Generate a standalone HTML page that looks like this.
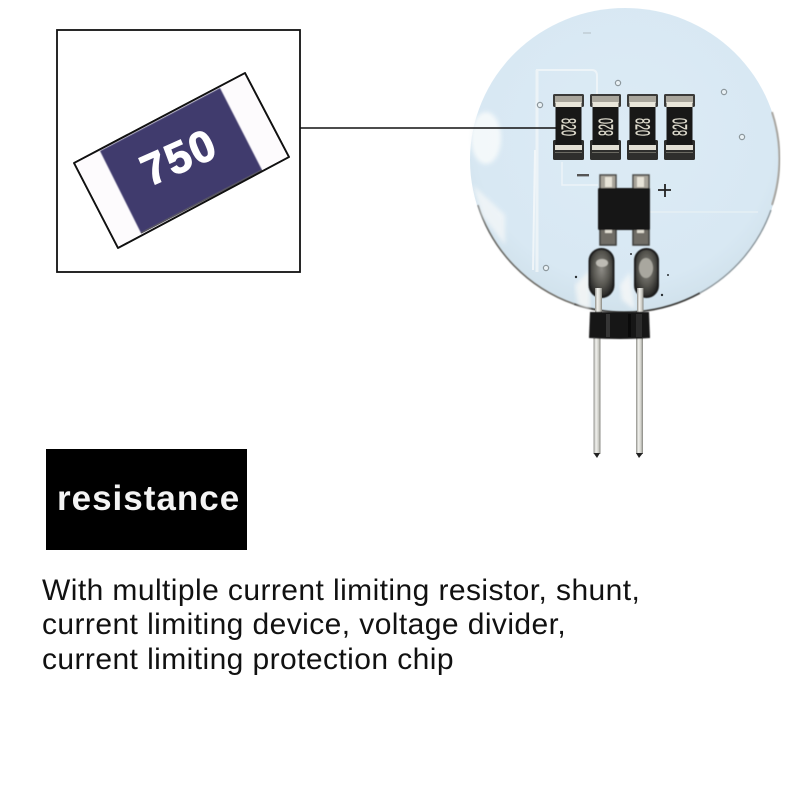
<!DOCTYPE html>
<html><head><meta charset="utf-8">
<style>
html,body{margin:0;padding:0;background:#fff;width:800px;height:800px;overflow:hidden}
svg{display:block}
.t{font-family:"Liberation Sans",sans-serif}
</style></head><body>
<svg width="800" height="800" viewBox="0 0 800 800" xmlns="http://www.w3.org/2000/svg">
<defs>
<radialGradient id="board" cx="50%" cy="42%" r="60%">
<stop offset="0" stop-color="#dcebf5"/><stop offset="0.8" stop-color="#d8e8f3"/><stop offset="1" stop-color="#cfe0ea"/>
</radialGradient>
<linearGradient id="pin" x1="0" x2="1" y1="0" y2="0">
<stop offset="0" stop-color="#8f8f8a"/><stop offset="0.35" stop-color="#f2f2ee"/><stop offset="0.7" stop-color="#d0d0ca"/><stop offset="1" stop-color="#85857f"/>
</linearGradient>
<radialGradient id="pad" cx="50%" cy="42%" r="58%">
<stop offset="0" stop-color="#8e8c86"/><stop offset="0.6" stop-color="#56554f"/><stop offset="1" stop-color="#262625"/>
</radialGradient>
<filter id="s"><feGaussianBlur stdDeviation="0.45"/></filter>
<filter id="s2"><feGaussianBlur stdDeviation="2"/></filter>
<g id="res">
<rect x="0" y="0" width="31" height="13" rx="1.5" fill="#3a3a38"/>
<rect x="2" y="2" width="27" height="7" fill="#a9a69c"/>
<rect x="0" y="46" width="31" height="20" rx="1.500" fill="#2e2e2c"/>
<rect x="2" y="58" width="27" height="1" fill="#6b6a62"/>
<rect x="2.500" y="8" width="26" height="6" fill="#e9e6da"/>
<rect x="2.500" y="13" width="26" height="39" fill="#181817"/>
<rect x="2" y="51" width="27" height="5" fill="#e2dfd4"/>
</g>
</defs>

<!-- inset box -->
<rect x="57" y="30" width="243" height="242" fill="#fff" stroke="#111" stroke-width="1.8"/>
<polygon points="74,163 245,73 289,157 118,248" fill="#fdfbfd" stroke="#111" stroke-width="1.8" stroke-linejoin="round"/>
<polygon points="100,151 220,88 262,170 141,233" fill="#3f3a6d" filter="url(#s)"/>
<line x1="141" y1="233" x2="262" y2="170" stroke="#55535f" stroke-width="1.5"/>
<polygon points="74,163 245,73 289,157 118,248" fill="none" stroke="#111" stroke-width="1.8" stroke-linejoin="round"/>
<text class="t" x="0" y="0" transform="translate(185,171) rotate(-24)" text-anchor="middle" font-size="44" font-weight="700" fill="#fff" stroke="#fff" stroke-width="1.1" letter-spacing="1.5">750</text>

<!-- board -->
<ellipse cx="625" cy="160" rx="155" ry="152" fill="url(#board)"/>
<path d="M772 112 A155 152 0 0 1 772 205" fill="none" stroke="#a9a6a0" stroke-width="2" filter="url(#s)"/>
<path d="M478 205 A155 152 0 0 0 574 304" fill="none" stroke="#6e6d68" stroke-width="1.6" filter="url(#s)"/>
<path d="M574 304 A155 152 0 0 0 700 293" fill="none" stroke="#3a3a38" stroke-width="1.8" filter="url(#s)"/>
<path d="M700 293 A155 152 0 0 0 771 210" fill="none" stroke="#8d979c" stroke-width="1.4" filter="url(#s)"/>
<!-- highlights -->
<ellipse cx="486" cy="138" rx="15" ry="26" fill="#f7fafb" opacity=".9" filter="url(#s2)"/>
<path d="M473 185 L505 215 L505 245 L482 215 Z" fill="#f2f6f8" opacity=".85" filter="url(#s2)"/>
<path d="M575 285 L590 270 L590 310 L578 305 Z" fill="#f3f5f5" opacity=".9" filter="url(#s2)"/>
<path d="M622 300 L620 285 L630 272 L635 310 Z" fill="#f3f6f7" opacity=".9" filter="url(#s2)"/>
<path d="M536 70 H592 Q597 70 597 76 V94" fill="none" stroke="#edf4f8" stroke-width="2"/>
<path d="M537 70 V272" fill="none" stroke="#ecf3f7" stroke-width="3"/>
<path d="M535 150 L533 270" fill="none" stroke="#f6f9fa" stroke-width="2" opacity=".8"/>
<path d="M562 162 V185 H598" fill="none" stroke="#edf4f8" stroke-width="1.5"/>
<path d="M650 212 H758" fill="none" stroke="#e6eff4" stroke-width="1.5"/>
<!-- vias -->
<g fill="#eaf2f6" stroke="#8c979c" stroke-width="1.2">
<circle cx="618" cy="83" r="2.6"/><circle cx="540" cy="105" r="2.6"/><circle cx="724" cy="92" r="2.6"/><circle cx="742" cy="137" r="2.6"/><circle cx="546" cy="268" r="2.6"/>
</g>
<path d="M583 33 H591" stroke="#b2bec5" stroke-width="1"/>

<!-- resistors -->
<use href="#res" x="553" y="94"/>
<use href="#res" x="590" y="94"/>
<use href="#res" x="627" y="94"/>
<use href="#res" x="664" y="94"/>
<g class="t" font-size="21" fill="#dedbcd" stroke="#dedbcd" stroke-width="0.3" text-anchor="middle" font-weight="400">
<text transform="translate(561.500,127) rotate(90)" textLength="18" lengthAdjust="spacingAndGlyphs">820</text>
<text transform="translate(613,127) rotate(-90)" textLength="18" lengthAdjust="spacingAndGlyphs">820</text>
<text transform="translate(635.500,127) rotate(90)" textLength="18" lengthAdjust="spacingAndGlyphs">820</text>
<text transform="translate(687,127) rotate(-90)" textLength="18" lengthAdjust="spacingAndGlyphs">820</text>
</g>

<!-- signs -->
<rect x="577" y="174" width="12" height="2.4" fill="#555"/>
<path d="M658 190 H671 M665 184 V197" stroke="#222" stroke-width="1.8"/>

<!-- chip -->
<g filter="url(#s)">
<rect x="600" y="175" width="16" height="14" fill="#a9a59b" stroke="#4a4a47" stroke-width="1.5"/>
<rect x="633" y="175" width="16" height="14" fill="#a9a59b" stroke="#4a4a47" stroke-width="1.5"/>
<rect x="605" y="177" width="7" height="10" fill="#e7e3d7"/>
<rect x="637" y="177" width="7" height="10" fill="#e7e3d7"/>
<rect x="600" y="229" width="16" height="16" fill="#6f6d66" stroke="#3c3c3a" stroke-width="1.5"/>
<rect x="633" y="229" width="16" height="16" fill="#6f6d66" stroke="#3c3c3a" stroke-width="1.5"/>
<rect x="605" y="227" width="7" height="6" fill="#e0ddd2"/>
<rect x="637" y="227" width="7" height="6" fill="#e0ddd2"/>
<rect x="598" y="188" width="52" height="42" rx="1.5" fill="#161615"/>
</g>
<line x1="300" y1="128" x2="557" y2="128" stroke="#111" stroke-width="1.6"/>

<!-- solder pads -->
<g filter="url(#s)">
<rect x="589.500" y="249" width="24" height="48" rx="12" fill="url(#pad)" stroke="#1a1a1a" stroke-width="2"/>
<rect x="635" y="249" width="23" height="48" rx="11.500" fill="url(#pad)" stroke="#1a1a1a" stroke-width="2"/>
<ellipse cx="602" cy="263" rx="6" ry="4" fill="#bdbbb4"/>
<ellipse cx="646" cy="268" rx="7" ry="10" fill="#a9a79f"/>
</g>
<g fill="#2b3034">
<circle cx="662" cy="295" r="1.2"/><circle cx="631" cy="254" r="1"/><circle cx="668" cy="275" r="1"/><circle cx="576" cy="277" r="1.2"/>
</g>

<!-- pins -->
<rect x="595" y="288" width="7" height="26" fill="url(#pin)"/>
<rect x="637" y="288" width="6.500" height="26" fill="url(#pin)"/>
<rect x="593.500" y="338" width="7" height="116" fill="url(#pin)"/>
<rect x="636" y="338" width="7" height="116" fill="url(#pin)"/>
<polygon points="593.500,453 600,453 597,458" fill="#222"/>
<polygon points="636,453 643,453 639,458" fill="#222"/>
<!-- connector -->
<path d="M590 312 H649 L650 338 Q620 340 589 338 Z" fill="#191919" filter="url(#s)"/>
<rect x="606" y="314" width="4" height="23" fill="#363636"/>
<rect x="628" y="314" width="3" height="23" fill="#0a0a0a"/>
<rect x="636" y="314" width="6" height="23" fill="#2c2c2c"/>

<!-- label -->
<rect x="46" y="449" width="201" height="101" fill="#000"/>
<text class="t" x="57" y="510" font-size="35" font-weight="700" fill="#f4f4f4" letter-spacing="1">resistance</text>

<!-- body text -->
<g class="t" font-size="30" fill="#111" letter-spacing="0.42">
<text x="42" y="600">With multiple current limiting resistor, shunt,</text>
<text x="42" y="634">current limiting device, voltage divider,</text>
<text x="42" y="669">current limiting protection chip</text>
</g>
</svg>
</body></html>
